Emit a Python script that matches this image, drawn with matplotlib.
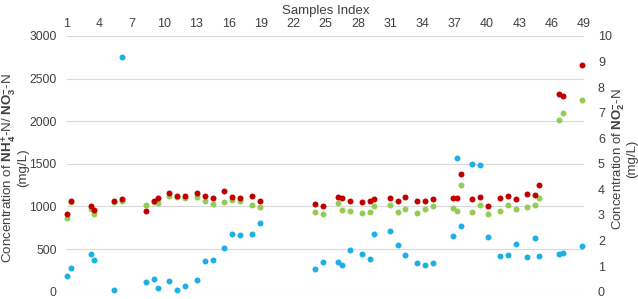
import matplotlib
matplotlib.use("Agg")
import matplotlib.pyplot as plt
import numpy as np

plt.rcParams['font.family'] = ['Liberation Sans', 'DejaVu Sans']
plt.rcParams['mathtext.fontset'] = 'custom'
plt.rcParams['mathtext.rm'] = 'Liberation Sans'
plt.rcParams['mathtext.bf'] = 'Liberation Sans:bold'
plt.rcParams['mathtext.it'] = 'Liberation Sans:italic'

# Sample positions (fractional sample index)
sample_x = [1.00, 1.37, 3.20, 3.53, 5.39, 6.13, 8.33, 9.04, 9.41, 10.49,
            11.23, 11.95, 13.06, 13.80, 14.54, 15.59, 16.33, 17.07, 18.16, 18.90,
            24.03, 24.75, 26.20, 26.57, 27.28, 28.39, 29.14, 29.51, 30.96, 31.70,
            32.42, 33.49, 34.24, 34.98, 36.81, 37.18, 37.55, 38.63, 39.38, 40.08,
            41.17, 41.91, 42.65, 43.70, 44.48, 44.85, 46.64, 47.04, 48.84]

# NH4+-N (mg/L), left axis
nh4 = [187, 281, 441, 374, 15, 2754, 116, 144, 39, 124,
       22, 69, 136, 363, 371, 512, 680, 664, 680, 809,
       262, 344, 351, 312, 485, 441, 379, 676, 711, 543,
       433, 332, 316, 332, 649, 1572, 773, 1501, 1482, 641,
       421, 426, 555, 410, 629, 414, 438, 450, 539]

# NO3--N (mg/L), left axis
no3 = [867, 1048, 969, 907, 1052, 1060, 1013, 1052, 1043, 1119,
       1110, 1095, 1107, 1060, 1032, 1055, 1075, 1060, 1016, 996,
       934, 907, 1036, 954, 950, 922, 934, 1001, 1013, 934,
       966, 922, 969, 1001, 978, 942, 1251, 934, 1020, 911,
       942, 1020, 973, 989, 1020, 1095, 2014, 2100, 2252]

# NO2--N (mg/L), right axis
no2 = [3.05, 3.53, 3.36, 3.18, 3.53, 3.62, 3.14, 3.54, 3.67, 3.85,
       3.75, 3.75, 3.87, 3.75, 3.67, 3.95, 3.69, 3.66, 3.75, 3.54,
       3.44, 3.34, 3.70, 3.65, 3.54, 3.49, 3.54, 3.62, 3.67, 3.53,
       3.71, 3.54, 3.53, 3.61, 3.65, 3.66, 4.60, 3.63, 3.69, 3.35,
       3.66, 3.73, 3.63, 3.82, 3.79, 4.17, 7.74, 7.65, 8.85]

x_ticks = list(range(1, 50, 3))
left_ticks = [0, 500, 1000, 1500, 2000, 2500, 3000]
right_ticks = list(range(0, 11))

fig = plt.figure(figsize=(6.38, 2.99), dpi=100)
ax = fig.add_axes([0.105, 0.0247, 0.8105, 0.855])
ax2 = ax.twinx()

grid_c = '#d9d9d9'
text_c = '#404040'

ax.set_xlim(1, 49)
ax.set_ylim(0, 3000)
ax2.set_ylim(0, 10)

ax.set_yticks(left_ticks)
ax2.set_yticks(right_ticks)
ax.set_xticks(x_ticks)
ax.grid(axis='y', color=grid_c, linewidth=0.8)
ax.set_axisbelow(True)

for a in (ax, ax2):
    for s in a.spines.values():
        s.set_visible(False)

ax.tick_params(axis='x', top=True, bottom=False, labeltop=True, labelbottom=False,
               length=0, pad=4, labelsize=9, labelcolor=text_c)
ax.tick_params(axis='y', length=0, pad=7.5, labelsize=8.7, labelcolor=text_c)
ax2.tick_params(axis='y', length=0, pad=10, labelsize=9, labelcolor=text_c)

ms = 4.3
ax.plot(sample_x, nh4, 'o', color='#1cb0e6', ms=ms, mec='none', clip_on=False, zorder=3)
ax.plot(sample_x, no3, 'o', color='#92cc52', ms=ms, mec='none', clip_on=False, zorder=3)
ax2.plot(sample_x, no2, 'o', color='#c00000', ms=ms, mec='none', clip_on=False, zorder=4)

ax.xaxis.set_label_position('top')
ax.set_xlabel('Samples Index', fontsize=9.5, color=text_c, labelpad=3)

fig.text(8.8 / 638, 1 - 168 / 299,
         'Concentration of $\\mathbf{NH}_\\mathbf{4}^{\\mathbf{+}}$-N/ $\\mathbf{NO}_\\mathbf{3}^{\\mathbf{-}}$-N',
         rotation=90, ha='center', va='center', fontsize=9.6, color=text_c)
fig.text(23 / 638, 1 - 168 / 299, '(mg/L)',
         rotation=90, ha='center', va='center', fontsize=9.6, color=text_c)
fig.text(619 / 638, 1 - 159 / 299,
         'Concentration of $\\mathbf{NO}_\\mathbf{2}^{\\mathbf{-}}$-N',
         rotation=90, ha='center', va='center', fontsize=9.5, color=text_c)
fig.text(632 / 638, 1 - 159 / 299, '(mg/L)',
         rotation=90, ha='center', va='center', fontsize=9.5, color=text_c)

fig.savefig('out.png', dpi=100)
